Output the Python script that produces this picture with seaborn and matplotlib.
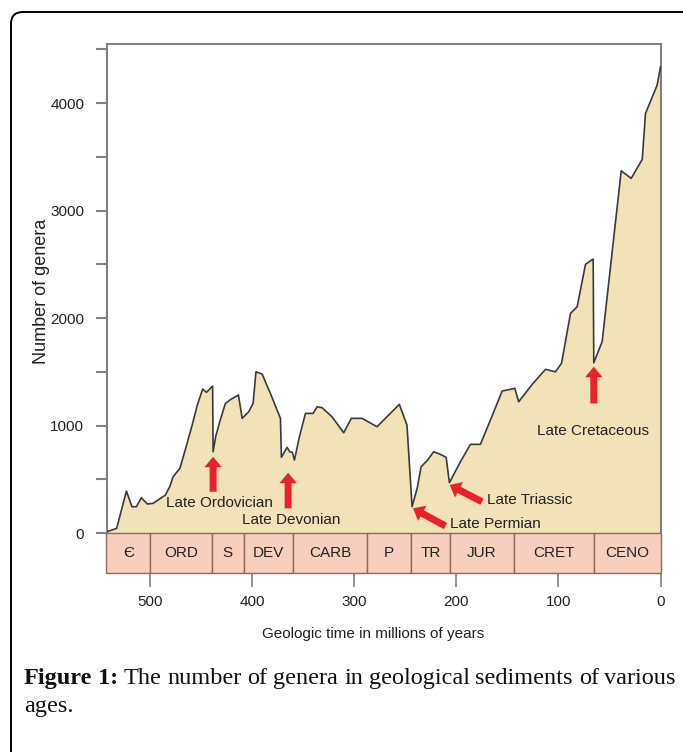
import matplotlib
matplotlib.use("Agg")
import matplotlib.pyplot as plt
import seaborn as sns
import pandas as pd
from matplotlib.patches import Rectangle, FancyBboxPatch

# ---------------- data ----------------
ages = [543, 533, 523.5, 518, 513.7, 508.8, 503, 497.4, 485.3, 481, 477.7, 471,
        465.4, 459, 454, 448.7, 445, 439, 438.5, 436, 432, 426.5, 421, 413.7,
        410, 403.6, 399.3, 396.5, 390.5, 382.4, 376.5, 372.5, 371.6, 366, 363.4,
        360.8, 358.8, 353.9, 348, 340.5, 336.6, 331.7, 322, 310.5, 303, 292.5,
        277.8, 256, 248.5, 243.5, 238.5, 234.6, 228.8, 222.3, 215.7, 210.1,
        206.9, 196.1, 186.3, 176.5, 166.7, 155.2, 142.8, 139, 125.8, 112.7, 103,
        97, 88.2, 81.7, 73.5, 66, 65.4, 57.2, 38.5, 28.7, 17.9, 14.7, 3.3, 0]
genera = [10, 44, 390, 245, 245, 328, 270, 276, 353, 431, 524, 602,
          788, 1005, 1190, 1340, 1309, 1367, 756, 896, 1035, 1206, 1244, 1284,
          1067, 1128, 1206, 1500, 1479, 1300, 1160, 1067, 704, 797, 756,
          750, 679, 896, 1113, 1113, 1175, 1166, 1082, 933, 1067, 1067,
          989, 1197, 1005, 245, 416, 617, 673, 756, 732, 704,
          468, 663, 825, 825, 1051, 1321, 1346, 1221, 1383, 1523, 1500,
          1579, 2044, 2105, 2500, 2549, 1584, 1780, 3370, 3300, 3476, 3904, 4167, 4338]

period_names = ["\u0404", "ORD", "S", "DEV", "CARB", "P", "TR", "JUR", "CRET", "CENO"]
period_start = [543, 500, 440, 408, 360, 288, 245, 206, 144, 65]
period_end = [500, 440, 408, 360, 288, 245, 206, 144, 65, 0]

x_ticks = [500, 400, 300, 200, 100, 0]
y_ticks = [0, 500, 1000, 1500, 2000, 2500, 3000, 3500, 4000, 4500]
y_ticklabels = ["0", "", "1000", "", "2000", "", "3000", "", "4000", ""]

event_names = ["Late Ordovician", "Late Devonian", "Late Permian", "Late Triassic", "Late Cretaceous"]
arrow_tip = [(438.5, 710), (365, 561), (242.5, 230), (206.6, 447), (65.4, 1547)]
arrow_tail = [(438.5, 384), (365, 230), (210.8, 65), (175, 291), (65.4, 1206)]
label_pos = [(432.4, 276), (361.8, 121), (205.9, 84), (169.6, 307), (65.7, 949)]
label_ha = ["center", "center", "left", "left", "center"]

# ---------------- style ----------------
sns.set_theme(style="white")
plt.rcParams["font.family"] = ["Liberation Sans", "DejaVu Sans"]

W, H = 683, 752
fig = plt.figure(figsize=(W / 100, H / 100), dpi=100)
left, right, top, bottom = 106.5, 660.5, 44, 573
ax = fig.add_axes([left / W, 1 - bottom / H, (right - left) / W, (bottom - top) / H])

area_col = "#F1E2B7"
line_col = "#3a3a3a"
band_col = "#F8CFBE"
band_edge = "#8c6a60"
red = "#E8212B"
spine_col = "#808080"

df = pd.DataFrame({"age": ages, "genera": genera})
ax.fill_between(df["age"], 0, df["genera"], color=area_col, lw=0, zorder=1)
sns.lineplot(data=df, x="age", y="genera", ax=ax, color=line_col, lw=1.2,
             estimator=None, sort=False, zorder=3)

ax.set_xlim(543, 0)
ax.set_ylim(-372, 4550)

# period band
for name, s, e in zip(period_names, period_start, period_end):
    ax.add_patch(Rectangle((e, -372), s - e, 372, facecolor=band_col,
                           edgecolor=band_edge, lw=1.0, zorder=4, clip_on=False))
    ax.text((s + e) / 2, -186, name, ha="center", va="center", fontsize=11,
            color="#222222", zorder=5)

# arrows and labels
for name, tip, tail, lp, ha in zip(event_names, arrow_tip, arrow_tail, label_pos, label_ha):
    ax.annotate("", xy=tip, xytext=tail,
                arrowprops=dict(arrowstyle="simple,head_length=0.75,head_width=1.25,tail_width=0.5",
                                mutation_scale=10, color=red, lw=0, shrinkA=0, shrinkB=0),
                zorder=6)
    ax.text(lp[0], lp[1], name, ha=ha, va="center", fontsize=11, color="#222222", zorder=6)

# axes / spines
for side in ["top", "left", "right"]:
    ax.spines[side].set_color(spine_col)
    ax.spines[side].set_linewidth(1.5)
ax.spines["bottom"].set_visible(False)
ax.spines["left"].set_bounds(0, 4550)
ax.spines["right"].set_bounds(0, 4550)

ax.set_xticks(x_ticks)
ax.set_xticklabels([str(t) for t in x_ticks])
ax.set_yticks(y_ticks)
ax.set_yticklabels(y_ticklabels)
ax.tick_params(axis="x", direction="out", length=10, width=1.2, color=spine_col,
               pad=6, labelsize=11, bottom=True, labelcolor="#222222")
ax.tick_params(axis="y", direction="out", length=8, width=1.5, color=spine_col,
               pad=8, labelsize=11, left=True, labelcolor="#222222")

ax.set_xlabel("Geologic time in millions of years", fontsize=11, color="#222222")
ax.xaxis.set_label_coords(0.482, -(627 - bottom) / (bottom - top))
ax.set_ylabel("Number of genera", fontsize=13, color="#222222")
ax.yaxis.set_label_coords(-(106.5 - 50) / (right - left), (bottom - 291) / (bottom - top))
ax.grid(False)

# outer frame
frame = FancyBboxPatch((0.11, -0.5), 6.95, 7.40 + 0.5, boxstyle="round,pad=0,rounding_size=0.12",
                       transform=fig.dpi_scale_trans, fill=False, ec="black", lw=1.4,
                       clip_on=False)
fig.add_artist(frame)

# caption (justified first line)
fig.canvas.draw()
renderer = fig.canvas.get_renderer()
words = ["Figure", "1:", "The", "number", "of", "genera", "in", "geological",
         "sediments", "of", "various"]
bold = [True, True] + [False] * 9
cap_fs = 17.5
texts = []
for w, b in zip(words, bold):
    t = fig.text(0, 0, w, fontsize=cap_fs, family=["Liberation Serif", "DejaVu Serif"],
                 fontweight="bold" if b else "normal", color="#111111", va="baseline")
    texts.append(t)
widths = [t.get_window_extent(renderer).width for t in texts]
x0, x1 = 24, 676
gap = (x1 - x0 - sum(widths)) / (len(words) - 1)
x = x0
for t, wd in zip(texts, widths):
    t.set_position((x / W, 1 - 684 / H))
    x += wd + gap
fig.text(24 / W, 1 - 712 / H, "ages.", fontsize=cap_fs, family=["Liberation Serif", "DejaVu Serif"],
         color="#111111", va="baseline")

fig.savefig("out.png", dpi=100)
